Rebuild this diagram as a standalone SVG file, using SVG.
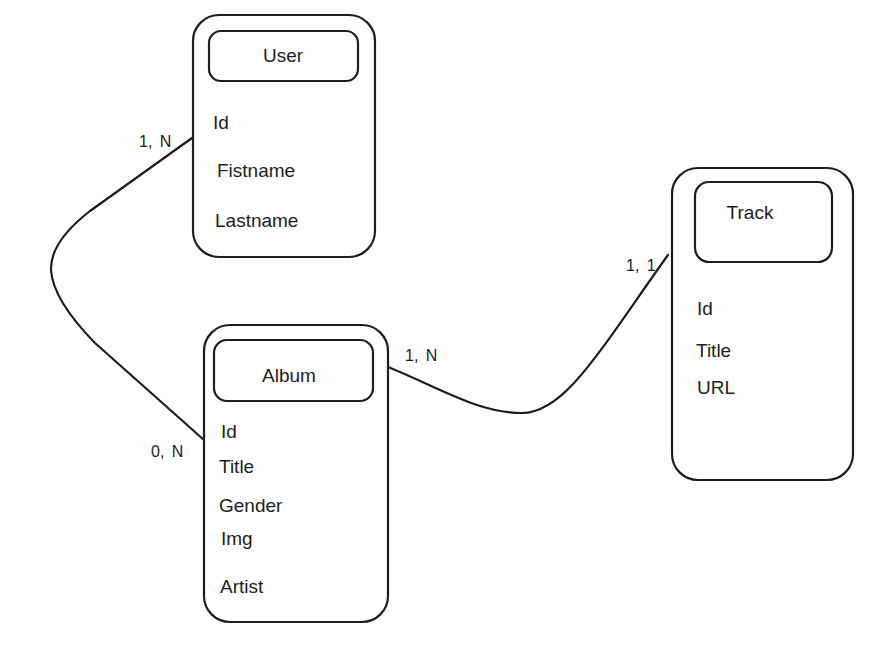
<svg xmlns="http://www.w3.org/2000/svg" width="886" height="650" viewBox="0 0 886 650">
<style>
.box{fill:none;stroke:#1e1e1e;stroke-width:2.2}
.hdr{fill:none;stroke:#1e1e1e;stroke-width:2.2}
.t{font-family:"Liberation Sans",Arial,sans-serif;font-size:19px;fill:#1e1e1e}
.c{text-anchor:middle}
.lbl{font-family:"Liberation Sans",Arial,sans-serif;font-size:16px;fill:#1e1e1e;word-spacing:3px}
.conn{fill:none;stroke:#1e1e1e;stroke-width:2.2;stroke-linecap:round;stroke-linejoin:round}
</style>
<rect width="886" height="650" fill="#ffffff"/>
<g id="connectors">
<path class="conn" d="M192,138 L90,211 Q50,242 51,270 Q53,300 95,343 L204,440"/>
<path class="conn" d="M388,367 C440,388 478,413 522,413 C565,413 600,350 668,255"/>
<text class="lbl" x="139" y="147">1, N</text>
<text class="lbl" x="151" y="457">0, N</text>
<text class="lbl" x="405" y="361">1, N</text>
<text class="lbl" x="626" y="271">1, 1</text>
</g>
<g id="user">
<rect class="box" x="193" y="15" width="182" height="242" rx="26"/>
<rect class="hdr" x="209" y="31" width="149" height="50" rx="12"/>
<text class="t c" x="283" y="62">User</text>
<text class="t" x="213" y="129">Id</text>
<text class="t" x="217" y="177">Fistname</text>
<text class="t" x="215" y="227">Lastname</text>
</g>
<g id="album">
<rect class="box" x="204" y="325" width="184" height="297" rx="26"/>
<rect class="hdr" x="214" y="340" width="159" height="61" rx="13"/>
<text class="t c" x="289" y="382">Album</text>
<text class="t" x="221" y="438">Id</text>
<text class="t" x="219" y="473">Title</text>
<text class="t" x="219" y="512">Gender</text>
<text class="t" x="221" y="545">Img</text>
<text class="t" x="220" y="593">Artist</text>
</g>
<g id="track">
<rect class="box" x="672" y="168" width="181" height="312" rx="26"/>
<rect class="hdr" x="695" y="182" width="137" height="80" rx="14"/>
<text class="t c" x="750" y="219">Track</text>
<text class="t" x="697" y="315">Id</text>
<text class="t" x="696" y="357">Title</text>
<text class="t" x="697" y="394">URL</text>
</g>
</svg>
